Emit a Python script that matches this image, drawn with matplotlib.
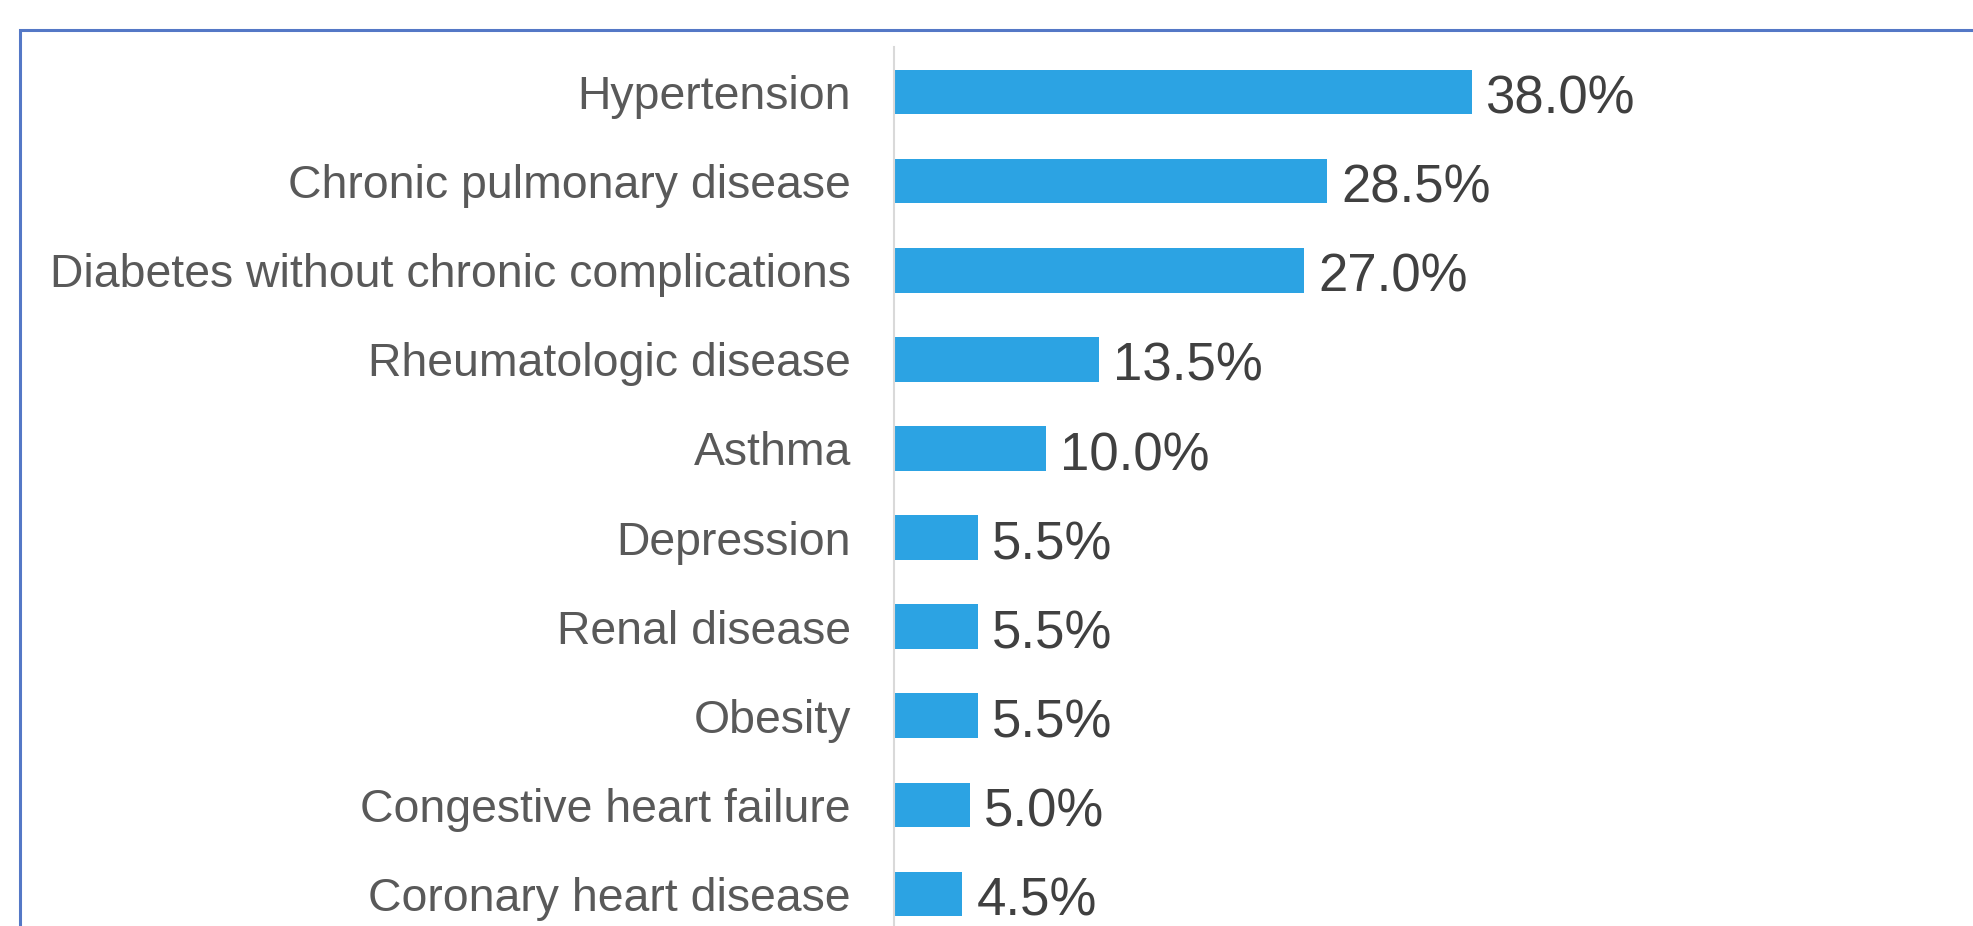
import matplotlib
matplotlib.use("Agg")
import matplotlib.pyplot as plt
from matplotlib.patches import Rectangle

# comorbidity prevalence (%)
conditions = ["Hypertension", "Chronic pulmonary disease",
              "Diabetes without chronic complications", "Rheumatologic disease",
              "Asthma", "Depression", "Renal disease", "Obesity",
              "Congestive heart failure", "Coronary heart disease"]
percents = [38.0, 28.5, 27.0, 13.5, 10.0, 5.5, 5.5, 5.5, 5.0, 4.5]

plt.rcParams['font.family'] = ['Liberation Sans', 'DejaVu Sans']

W, H = 1974, 926
fig = plt.figure(figsize=(W / 100, H / 100), dpi=100)
fig.patch.set_facecolor("white")

# blue frame round the chart (runs off the right and bottom edges)
fig.add_artist(Rectangle((20 / W, -0.2), 1.2, 1.2 - 30 / H,
                         transform=fig.transFigure, fill=False,
                         edgecolor="#5478C6", linewidth=2.2))

ax_left = 894 / W
ax_top = 1 - 47.5 / H
ax_bottom = 1 - 938.5 / H
ax = fig.add_axes([ax_left, ax_bottom, 40 * 15.2 / W, ax_top - ax_bottom])

y = list(range(len(conditions)))
bars = ax.barh(y, percents, height=0.5, color="#2CA3E3", edgecolor="none")
ax.set_ylim(len(conditions) - 0.5, -0.5)
ax.set_xlim(0, 40)

for b, v in zip(bars, percents):
    ax.annotate("{:.1f}%".format(v), (b.get_width(), b.get_y() + b.get_height() / 2),
                xytext=(10, -5.5), textcoords="offset points",
                va="center", ha="left", fontsize=38, color="#404040",
                annotation_clip=False)

ax.set_yticks(y)
ax.set_yticklabels(conditions, fontsize=33.4, color="#595959")
ax.tick_params(axis="y", length=0, pad=31)
ax.set_xticks([])
for side in ["top", "right", "bottom"]:
    ax.spines[side].set_visible(False)
ax.spines["left"].set_color("#D9D9D9")
ax.spines["left"].set_linewidth(1.5)

fig.savefig("out.png", dpi=100)
